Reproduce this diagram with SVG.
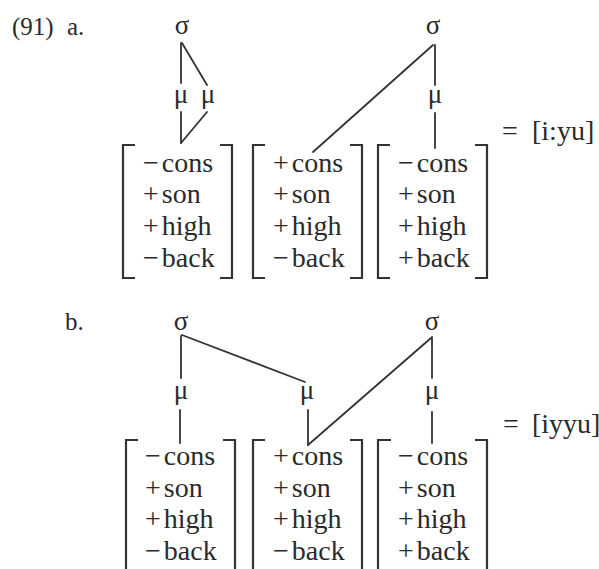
<svg xmlns="http://www.w3.org/2000/svg" width="599" height="569" viewBox="0 0 599 569">
<style>
text{font-family:"Liberation Serif","Times New Roman",serif;fill:#2a2a2a}
.lbl{font-size:25px}
.eq{font-size:28px}
.g{font-size:27px;text-anchor:middle}
.f{font-size:28px}
.ln{stroke:#333;stroke-width:1.8;fill:none;stroke-linecap:round}
.br{stroke:#333;stroke-width:2.2;fill:none}
</style>
<rect width="599" height="569" fill="#fff"/>
<g id="labels">
<text class="lbl" x="12" y="35">(91)</text>
<text class="lbl" x="67" y="35">a.</text>
<text class="lbl" x="65" y="330">b.</text>
<text class="eq" x="502" y="140">=</text>
<text class="eq" x="532" y="140">[i:yu]</text>
<text class="eq" x="503" y="433">=</text>
<text class="eq" x="532" y="433">[iyyu]</text>
</g>
<g id="connectors">
<line class="ln" x1="181" y1="43" x2="181" y2="83"/>
<line class="ln" x1="182" y1="43" x2="207" y2="85"/>
<line class="ln" x1="181" y1="112" x2="181" y2="143"/>
<line class="ln" x1="207" y1="112" x2="181" y2="143"/>
<line class="ln" x1="435" y1="45" x2="435" y2="85"/>
<line class="ln" x1="435" y1="113" x2="435" y2="148"/>
<line class="ln" x1="433" y1="45" x2="313" y2="152"/>
<line class="ln" x1="181" y1="336" x2="181" y2="378"/>
<line class="ln" x1="182" y1="335" x2="305" y2="382"/>
<line class="ln" x1="180" y1="410" x2="180" y2="443"/>
<line class="ln" x1="308" y1="410" x2="308" y2="445"/>
<line class="ln" x1="308" y1="445" x2="431" y2="338"/>
<line class="ln" x1="432" y1="337" x2="432" y2="378"/>
<line class="ln" x1="432" y1="412" x2="432" y2="443"/>
</g>
<g id="a-sigma1"><text class="g" x="182" y="34">σ</text></g>
<g id="a-sigma2"><text class="g" x="433" y="34">σ</text></g>
<g id="a-mu1"><text class="g" x="181" y="103">μ</text></g>
<g id="a-mu2"><text class="g" x="208" y="103">μ</text></g>
<g id="a-mu3"><text class="g" x="435" y="103">μ</text></g>
<g id="b-sigma1"><text class="g" x="181" y="330">σ</text></g>
<g id="b-sigma2"><text class="g" x="432" y="330">σ</text></g>
<g id="b-mu1"><text class="g" x="181" y="399">μ</text></g>
<g id="b-mu2"><text class="g" x="307" y="399">μ</text></g>
<g id="b-mu3"><text class="g" x="432" y="399">μ</text></g>
<g id="a-seg1">
<path class="br" d="M135,145H123V278H135M220,145H232V278H220"/>
<text class="f" x="143" y="172">−<tspan dx="3">cons</tspan></text>
<text class="f" x="143" y="203">+<tspan dx="3">son</tspan></text>
<text class="f" x="143" y="235">+<tspan dx="3">high</tspan></text>
<text class="f" x="143" y="267">−<tspan dx="3">back</tspan></text>
</g>
<g id="a-seg2">
<path class="br" d="M265,145H253V278H265M350,145H362V278H350"/>
<text class="f" x="273" y="172">+<tspan dx="3">cons</tspan></text>
<text class="f" x="273" y="203">+<tspan dx="3">son</tspan></text>
<text class="f" x="273" y="235">+<tspan dx="3">high</tspan></text>
<text class="f" x="273" y="267">−<tspan dx="3">back</tspan></text>
</g>
<g id="a-seg3">
<path class="br" d="M390,145H378V278H390M475,145H487V278H475"/>
<text class="f" x="398" y="172">−<tspan dx="3">cons</tspan></text>
<text class="f" x="398" y="203">+<tspan dx="3">son</tspan></text>
<text class="f" x="398" y="235">+<tspan dx="3">high</tspan></text>
<text class="f" x="398" y="267">+<tspan dx="3">back</tspan></text>
</g>
<g id="b-seg1">
<path class="br" d="M138,440H126V575M223,440H235V575"/>
<text class="f" x="145" y="465">−<tspan dx="3">cons</tspan></text>
<text class="f" x="145" y="497">+<tspan dx="3">son</tspan></text>
<text class="f" x="145" y="528">+<tspan dx="3">high</tspan></text>
<text class="f" x="145" y="560">−<tspan dx="3">back</tspan></text>
</g>
<g id="b-seg2">
<path class="br" d="M265,440H253V575M350,440H362V575"/>
<text class="f" x="273" y="465">+<tspan dx="3">cons</tspan></text>
<text class="f" x="273" y="497">+<tspan dx="3">son</tspan></text>
<text class="f" x="273" y="528">+<tspan dx="3">high</tspan></text>
<text class="f" x="273" y="560">−<tspan dx="3">back</tspan></text>
</g>
<g id="b-seg3">
<path class="br" d="M391,440H378V575M475,440H487V575"/>
<text class="f" x="398" y="465">−<tspan dx="3">cons</tspan></text>
<text class="f" x="398" y="497">+<tspan dx="3">son</tspan></text>
<text class="f" x="398" y="528">+<tspan dx="3">high</tspan></text>
<text class="f" x="398" y="560">+<tspan dx="3">back</tspan></text>
</g>
</svg>
